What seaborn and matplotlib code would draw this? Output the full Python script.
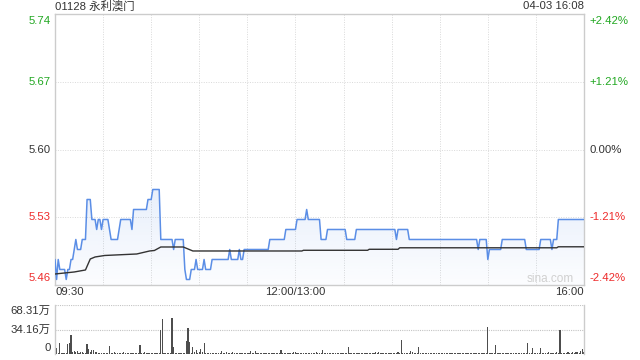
import numpy as np
import matplotlib
matplotlib.use('Agg')
import matplotlib.pyplot as plt
import matplotlib.transforms as mtransforms
import seaborn as sns

sns.set_theme(style='white')
plt.rcParams['font.family'] = ['Liberation Sans', 'Noto Sans CJK SC', 'DejaVu Sans']

# ---------------- data ----------------
title_left = "01128 永利澳门"
title_right = "04-03 16:08"
prev_close = 5.60
price_tick_labels = ['5.74', '5.67', '5.60', '5.53', '5.46']
pct_values = [2.42, 1.21, 0.0, -1.21, -2.42]
pct_labels = ['+2.42%', '+1.21%', '0.00%', '-1.21%', '-2.42%']
time_labels = ['09:30', '12:00/13:00', '16:00']
time_label_minutes = [0, 150, 330]
vol_tick_values = [68.31, 34.16, 0]
vol_tick_labels = ['68.31万', '34.16万', '0']
watermark = 'sina.com'

# per-minute last price (09:30 -> 16:00, lunch removed)
price = [
    5.49, 5.47, 5.49, 5.48, 5.48, 5.48, 5.48, 5.47, 5.48, 5.48,
    5.49, 5.49, 5.50, 5.51, 5.50, 5.50, 5.50, 5.51, 5.51, 5.51,
    5.55, 5.55, 5.55, 5.53, 5.53, 5.53, 5.52, 5.53, 5.53, 5.52,
    5.53, 5.53, 5.53, 5.53, 5.52, 5.51, 5.51, 5.51, 5.51, 5.51,
    5.52, 5.53, 5.53, 5.53, 5.53, 5.53, 5.53, 5.53, 5.52, 5.54,
    5.54, 5.54, 5.54, 5.54, 5.54, 5.54, 5.54, 5.54, 5.55, 5.55,
    5.55, 5.56, 5.56, 5.56, 5.56, 5.56, 5.51, 5.51, 5.51, 5.51,
    5.51, 5.51, 5.51, 5.51, 5.50, 5.51, 5.51, 5.51, 5.51, 5.51,
    5.51, 5.48, 5.47, 5.47, 5.47, 5.48, 5.48, 5.48, 5.49, 5.48,
    5.48, 5.48, 5.48, 5.49, 5.48, 5.48, 5.48, 5.48, 5.49, 5.49,
    5.49, 5.49, 5.49, 5.49, 5.49, 5.49, 5.49, 5.49, 5.49, 5.50,
    5.49, 5.49, 5.49, 5.49, 5.49, 5.50, 5.49, 5.49, 5.50, 5.50,
    5.50, 5.50, 5.50, 5.50, 5.50, 5.50, 5.50, 5.50, 5.50, 5.50,
    5.50, 5.50, 5.50, 5.50, 5.51, 5.51, 5.51, 5.51, 5.51, 5.51,
    5.51, 5.51, 5.51, 5.51, 5.52, 5.52, 5.52, 5.52, 5.52, 5.52,
    5.52, 5.53, 5.53, 5.53, 5.53, 5.53, 5.53, 5.54, 5.53, 5.53,
    5.53, 5.53, 5.53, 5.53, 5.53, 5.53, 5.51, 5.51, 5.51, 5.51,
    5.52, 5.52, 5.52, 5.52, 5.52, 5.52, 5.52, 5.52, 5.52, 5.52,
    5.52, 5.52, 5.51, 5.51, 5.51, 5.51, 5.51, 5.51, 5.52, 5.52,
    5.52, 5.52, 5.52, 5.52, 5.52, 5.52, 5.52, 5.52, 5.52, 5.52,
    5.52, 5.52, 5.52, 5.52, 5.52, 5.52, 5.52, 5.52, 5.52, 5.52,
    5.52, 5.52, 5.52, 5.51, 5.52, 5.52, 5.52, 5.52, 5.52, 5.52,
    5.52, 5.51, 5.51, 5.51, 5.51, 5.51, 5.51, 5.51, 5.51, 5.51,
    5.51, 5.51, 5.51, 5.51, 5.51, 5.51, 5.51, 5.51, 5.51, 5.51,
    5.51, 5.51, 5.51, 5.51, 5.51, 5.51, 5.51, 5.51, 5.51, 5.51,
    5.51, 5.51, 5.51, 5.51, 5.51, 5.51, 5.51, 5.51, 5.51, 5.51,
    5.51, 5.51, 5.51, 5.51, 5.50, 5.51, 5.51, 5.51, 5.51, 5.51,
    5.49, 5.50, 5.50, 5.50, 5.50, 5.50, 5.50, 5.50, 5.50, 5.51,
    5.51, 5.51, 5.51, 5.51, 5.51, 5.51, 5.51, 5.51, 5.51, 5.51,
    5.51, 5.51, 5.51, 5.51, 5.50, 5.50, 5.50, 5.50, 5.50, 5.50,
    5.50, 5.50, 5.50, 5.51, 5.51, 5.51, 5.51, 5.51, 5.51, 5.51,
    5.50, 5.51, 5.51, 5.51, 5.53, 5.53, 5.53, 5.53, 5.53, 5.53,
    5.53, 5.53, 5.53, 5.53, 5.53, 5.53, 5.53, 5.53, 5.53, 5.53,
    5.53,
]

# average price line (minute, value)
avg_minutes = [0, 12, 19, 22, 25, 31, 51, 59, 62, 66, 80, 86, 154, 155,
               195, 196, 214, 215, 313, 314, 330]
avg_price = [5.4755, 5.4775, 5.4795, 5.4905, 5.4925, 5.4940, 5.4955, 5.4985,
             5.4990, 5.5025, 5.5025, 5.4985, 5.4985, 5.4992, 5.4992, 5.5002,
             5.5002, 5.5017, 5.5017, 5.5027, 5.5027]

# per-minute volume (万股)
volume = [
    68.31, 8.3, 2.2, 16.0, 1.8, 1.6, 2.0, 1.9, 14.0, 16.0,
    26.8, 2.5, 5.0, 3.7, 5.0, 2.2, 3.7, 3.0, 2.0, 1.8,
    14.0, 8.0, 2.5, 6.0, 6.0, 3.7, 3.0, 2.2, 1.8, 1.6,
    2.0, 1.5, 1.8, 2.2, 11.5, 1.9, 1.6, 3.0, 2.0, 1.7,
    2.2, 1.8, 1.6, 2.5, 1.9, 2.0, 1.5, 2.3, 1.8, 1.7,
    2.0, 1.6, 2.2, 13.0, 1.9, 1.5, 2.5, 1.8, 2.0, 1.6,
    2.1, 1.7, 2.4, 1.9, 1.6, 2.2, 33.7, 49.0, 2.0, 1.8,
    1.6, 2.2, 1.9, 50.8, 10.6, 2.3, 1.7, 1.5, 2.0, 1.8,
    2.4, 2.0, 19.0, 37.0, 17.5, 2.2, 10.6, 3.7, 6.0, 2.0,
    3.7, 7.4, 2.5, 16.0, 2.2, 1.8, 1.6, 2.0, 1.9, 2.3,
    1.7, 2.0, 1.6, 2.2, 5.0, 1.8, 2.0, 3.7, 1.9, 1.6,
    2.1, 3.7, 1.8, 2.2, 1.6, 2.0, 1.9, 2.4, 1.7, 2.0,
    1.8, 2.2, 5.0, 1.9, 1.6, 5.0, 2.0, 1.7, 2.3, 1.8,
    2.0, 1.6, 2.2, 1.9, 1.7, 2.1, 1.8, 2.3, 1.6, 2.0,
    1.9, 6.0, 2.2, 1.7, 2.0, 1.8, 2.4, 1.6, 2.0, 3.7,
    3.7, 2.0, 1.8, 2.2, 1.6, 1.9, 2.1, 1.7, 2.3, 1.8,
    2.0, 1.6, 2.2, 2.8, 1.9, 1.7, 2.0, 6.0, 1.8, 2.2,
    1.6, 2.0, 1.9, 2.3, 1.7, 2.1, 1.8, 2.0, 1.6, 2.2,
    1.9, 1.7, 2.0, 9.7, 1.8, 2.2, 1.6, 2.0, 1.9, 2.1,
    1.7, 2.3, 1.8, 2.0, 1.6, 2.2, 1.9, 1.7, 2.0, 1.8,
    2.8, 1.6, 2.8, 2.0, 1.8, 2.2, 1.9, 1.7, 2.1, 1.8,
    2.0, 1.6, 2.2, 1.9, 3.0, 2.0, 19.8, 2.2, 1.8, 2.0,
    1.7, 2.1, 4.6, 3.0, 1.9, 2.2, 1.8, 9.7, 2.0, 1.6,
    2.2, 1.9, 1.7, 2.0, 1.8, 2.3, 1.6, 2.0, 1.9, 2.1,
    1.7, 2.0, 1.8, 2.2, 1.6, 1.9, 2.1, 1.7, 2.0, 1.8,
    2.2, 1.6, 2.0, 1.9, 1.7, 2.3, 1.8, 2.0, 1.6, 2.1,
    1.9, 1.7, 2.0, 1.8, 2.2, 1.6, 2.0, 1.9, 2.1, 1.7,
    37.4, 2.2, 1.8, 2.0, 1.7, 13.0, 2.1, 1.6, 2.0, 1.9,
    1.8, 2.2, 1.6, 2.0, 1.9, 1.7, 2.1, 1.8, 2.0, 1.6,
    2.2, 1.9, 1.7, 2.0, 2.3, 16.0, 1.8, 2.0, 8.3, 1.9,
    1.7, 2.2, 1.8, 8.3, 2.0, 1.6, 2.1, 1.9, 3.0, 2.0,
    1.8, 2.2, 2.0, 2.8, 1.9, 33.7, 2.0, 1.8, 2.2, 2.0,
    3.0, 2.0, 2.3, 2.8, 2.0, 2.5, 3.7, 2.2, 5.0, 7.0,
    3.0,
]

# ---------------- styling ----------------
GREEN = '#22a822'
RED = '#ee2b2b'
DARK = '#333333'
LINE = '#5b8ee6'
GRID = '#d9d9d9'
SPINE = '#cccccc'
FS = 8.2

minutes = np.arange(len(price))
total_minutes = len(price) - 1
ymin = prev_close * (1 + pct_values[-1] / 100)
ymax = prev_close * (1 + pct_values[0] / 100)
level_values = [prev_close * (1 + p / 100) for p in pct_values]
label_colors = [GREEN, GREEN, DARK, RED, RED]

fig = plt.figure(figsize=(6.4, 3.6), dpi=100)
fig.patch.set_facecolor('white')
ax = fig.add_axes([55 / 640, 75 / 360, 529 / 640, 271 / 360])
vax = fig.add_axes([55 / 640, 5.7 / 360, 529 / 640, 49.3 / 360])

# ---- main price panel ----
for xv in range(30, total_minutes, 30):
    ax.axvline(xv, color=GRID, lw=0.7, ls=(0, (1, 1.5)), zorder=0)
for lv in level_values[1:-1]:
    ax.axhline(lv, color=GRID, lw=0.7, ls=(0, (1, 1.5)), zorder=0)

poly = ax.fill_between(minutes, price, ymin, color='none', lw=0)
grad = np.zeros((100, 1, 4))
rgb = matplotlib.colors.to_rgb(LINE)
grad[:, 0, 0:3] = rgb
grad[:, 0, 3] = np.linspace(0.14, 0.02, 100)
img = ax.imshow(grad, aspect='auto', extent=[0, total_minutes, ymin, max(price)],
                origin='upper', zorder=1)
img.set_clip_path(poly.get_paths()[0], transform=ax.transData)

sns.lineplot(x=minutes, y=price, ax=ax, color=LINE, lw=1.1, zorder=3)
sns.lineplot(x=avg_minutes, y=avg_price, ax=ax, color='#333333', lw=1.0, zorder=4)

ax.set_xlim(0, total_minutes)
ax.set_ylim(ymin, ymax)
ax.set_xticks([])
ax.set_yticks([])
ax.set_xlabel('')
ax.set_ylabel('')
for s in ax.spines.values():
    s.set_color(SPINE)
    s.set_linewidth(1.0)

trans_left = mtransforms.blended_transform_factory(ax.transAxes, ax.transData)
n = len(level_values)
for i, (lv, lab, pl, c) in enumerate(zip(level_values, price_tick_labels, pct_labels, label_colors)):
    va = 'top' if i == 0 else ('bottom' if i == n - 1 else 'center')
    off = -1.5 if i == 0 else (1.5 if i == n - 1 else 0)
    ax.annotate(lab, xy=(0, lv), xycoords=trans_left, xytext=(-3, off),
                textcoords='offset points', ha='right', va=va, color=c, fontsize=FS)
    ax.annotate(pl, xy=(1, lv), xycoords=trans_left, xytext=(4, off),
                textcoords='offset points', ha='left', va=va, color=c, fontsize=FS)

trans_bottom = mtransforms.blended_transform_factory(ax.transData, ax.transAxes)
for tl, tm in zip(time_labels, time_label_minutes):
    ha = 'left' if tm == 0 else ('right' if tm == total_minutes else 'center')
    ax.annotate(tl, xy=(tm, 0), xycoords=trans_bottom, xytext=(0, -5),
                textcoords='offset points', ha=ha, va='center', color=DARK, fontsize=FS)

ax.annotate(title_left, xy=(0, 1), xycoords='axes fraction', xytext=(0, 5.5),
            textcoords='offset points', ha='left', va='center', color=DARK, fontsize=FS)
ax.annotate(title_right, xy=(1, 1), xycoords='axes fraction', xytext=(0, 5.5),
            textcoords='offset points', ha='right', va='center', color=DARK, fontsize=FS)
ax.text(0.98, 0.022, watermark, transform=ax.transAxes, ha='right', va='center',
        color='#d0d0d0', fontsize=8.5, zorder=2)

# ---- volume panel ----
for vv in vol_tick_values[:-1]:
    vax.axhline(vv, color='#c4c4c4', lw=0.8, ls=(0, (1, 1)), zorder=0)
sns.barplot(x=minutes, y=volume, ax=vax, native_scale=True, color='#4d4d4d',
            width=0.7, saturation=1, linewidth=0, zorder=2)
vax.set_xlim(0, total_minutes)
vax.set_ylim(0, vol_tick_values[0])
vax.set_xticks([])
vax.set_yticks([])
vax.set_xlabel('')
vax.set_ylabel('')
for k, s in vax.spines.items():
    if k in ('left', 'right'):
        s.set_color(SPINE)
        s.set_linewidth(1.0)
    else:
        s.set_visible(False)
vtrans = mtransforms.blended_transform_factory(vax.transAxes, vax.transData)
nv = len(vol_tick_values)
for i, (vv, vl) in enumerate(zip(vol_tick_values, vol_tick_labels)):
    va = 'top' if i == 0 else ('bottom' if i == nv - 1 else 'center')
    off = -1.0 if i == 0 else (1.0 if i == nv - 1 else 0)
    vax.annotate(vl, xy=(0, vv), xycoords=vtrans, xytext=(-3, off),
                 textcoords='offset points', ha='right', va=va, color=DARK, fontsize=FS)

fig.savefig('out.png', dpi=100, facecolor='white')
